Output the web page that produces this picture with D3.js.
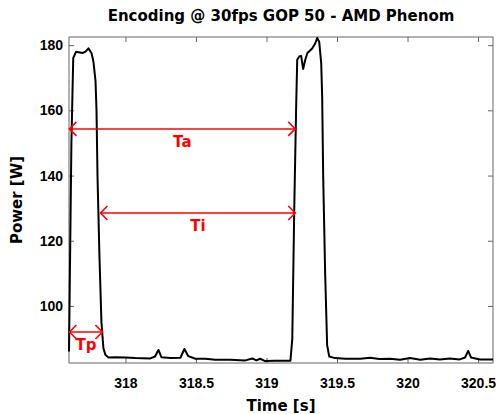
<!DOCTYPE html>
<html>
<head>
<meta charset="utf-8">
<script src="https://cdn.jsdelivr.net/npm/d3@7"></script>
<style>
  body { margin: 0; background: #fff; }
  svg { display: block; font-family: "DejaVu Sans", Arial, sans-serif; }
</style>
</head>
<body>
<svg id="chart"></svg>
<script>
// time [s] and power [W]
const times = [317.600, 317.617, 317.630, 317.650, 317.695, 317.717, 317.738, 317.760, 317.773, 317.788,
  317.795, 317.802, 317.816, 317.830, 317.844, 317.858, 317.880, 317.930, 318.000, 318.070,
  318.177, 318.210, 318.234, 318.255, 318.320, 318.390, 318.418, 318.446, 318.496, 318.567,
  318.637, 318.744, 318.850, 318.900, 318.928, 318.956, 318.990, 319.060, 319.170, 319.183,
  319.197, 319.210, 319.218, 319.232, 319.246, 319.260, 319.275, 319.290, 319.324, 319.345,
  319.360, 319.374, 319.388, 319.395, 319.402, 319.416, 319.430, 319.445, 319.487, 319.558,
  319.664, 319.735, 319.800, 319.876, 319.947, 320.018, 320.090, 320.160, 320.230, 320.300,
  320.370, 320.408, 320.430, 320.450, 320.514, 320.606]
const power = [86.0, 150.0, 176.0, 178.0, 177.6, 178.0, 179.0, 177.5, 175.0, 169.0,
  160.0, 140.0, 115.0, 95.0, 87.0, 85.0, 84.2, 84.3, 84.2, 84.0,
  83.9, 84.5, 86.5, 84.3, 84.0, 84.1, 86.8, 84.6, 83.8, 83.8,
  83.5, 83.5, 83.3, 83.9, 83.3, 83.8, 83.1, 83.2, 83.2, 90.0,
  130.0, 160.0, 175.5, 176.5, 176.7, 172.7, 175.5, 177.6, 179.0, 180.5,
  182.2, 181.0, 174.5, 164.0, 140.0, 110.0, 88.0, 84.5, 84.0, 83.8,
  83.8, 84.1, 83.7, 83.8, 83.5, 84.0, 83.5, 83.9, 83.6, 83.9,
  83.6, 84.2, 86.2, 84.2, 83.6, 83.6]

const xTicks = [318, 318.5, 319, 319.5, 320, 320.5]
const yTicks = [100, 120, 140, 160, 180]

// annotation arrows: label, start time, end time, level
const arrowNames = ["Ta", "Ti", "Tp"]
const arrowStart = [317.603, 317.823, 317.603]
const arrowEnd = [319.204, 319.204, 317.837]
const arrowLevel = [154.3, 128.5, 92.0]

const W = 501, H = 414
const m = {left: 69, right: 8, top: 37, bottom: 51}

const svg = d3.select('#chart').attr('width', W).attr('height', H)

const x = d3.scaleLinear().domain([317.6, 320.606]).range([m.left, W - m.right])
const y = d3.scaleLinear().domain([82.5, 182.5]).range([H - m.bottom, m.top])

const axisColor = '#666'

// box
svg.append('rect')
  .attr('x', m.left).attr('y', m.top)
  .attr('width', W - m.right - m.left).attr('height', H - m.bottom - m.top)
  .attr('fill', 'none').attr('stroke', axisColor).attr('stroke-width', 1)

// inward ticks on all four sides
const tl = 5
const xb = d3.axisBottom(x).tickValues(xTicks).tickSize(-tl).tickFormat(d3.format('~g'))
const xt = d3.axisTop(x).tickValues(xTicks).tickSize(-tl).tickFormat('')
const yl = d3.axisLeft(y).tickValues(yTicks).tickSize(-tl)
const yr = d3.axisRight(y).tickValues(yTicks).tickSize(-tl).tickFormat('')

function styleAxis(g) {
  g.select('.domain').remove()
  g.selectAll('.tick line').attr('stroke', axisColor)
  g.selectAll('.tick text').attr('fill', '#000').style('font-size', '14px').style('font-weight', 'bold')
}

svg.append('g').attr('transform', `translate(0,${H - m.bottom})`).call(xb).call(styleAxis)
  .selectAll('.tick text').attr('y', 15)
svg.append('g').attr('transform', `translate(0,${m.top})`).call(xt).call(styleAxis)
svg.append('g').attr('transform', `translate(${m.left},0)`).call(yl).call(styleAxis)
  .selectAll('.tick text').attr('x', -6)
svg.append('g').attr('transform', `translate(${W - m.right},0)`).call(yr).call(styleAxis)

// power trace
const line = d3.line().x((d, i) => x(times[i])).y(d => y(d))
svg.append('path')
  .datum(power)
  .attr('d', line)
  .attr('fill', 'none')
  .attr('stroke', '#000')
  .attr('stroke-width', 2)
  .attr('stroke-linejoin', 'round')

// red double arrows
const red = '#ff0000'
const ah = 7
arrowNames.forEach((name, i) => {
  const x0 = x(arrowStart[i]), x1 = x(arrowEnd[i]), yy = y(arrowLevel[i])
  const g = svg.append('g').attr('stroke', red).attr('stroke-width', 1.6).attr('fill', 'none')
  g.append('line').attr('x1', x0).attr('x2', x1).attr('y1', yy).attr('y2', yy)
  g.append('path').attr('d', `M${x0 + ah},${yy - ah}L${x0},${yy}L${x0 + ah},${yy + ah}`)
  g.append('path').attr('d', `M${x1 - ah},${yy - ah}L${x1},${yy}L${x1 - ah},${yy + ah}`)
  svg.append('text')
    .attr('x', (x0 + x1) / 2).attr('y', yy + 18)
    .attr('text-anchor', 'middle')
    .attr('fill', red)
    .style('font-size', '15px').style('font-weight', 'bold')
    .text(name)
})

// titles
svg.append('text')
  .attr('x', (m.left + W - m.right) / 2).attr('y', 21)
  .attr('text-anchor', 'middle')
  .style('font-size', '15px').style('font-weight', 'bold')
  .text('Encoding @ 30fps GOP 50 - AMD Phenom')

svg.append('text')
  .attr('x', (m.left + W - m.right) / 2).attr('y', 411)
  .attr('text-anchor', 'middle')
  .style('font-size', '15px').style('font-weight', 'bold')
  .text('Time [s]')

svg.append('text')
  .attr('transform', `translate(22,${(m.top + H - m.bottom) / 2}) rotate(-90)`)
  .attr('text-anchor', 'middle')
  .style('font-size', '15px').style('font-weight', 'bold')
  .text('Power [W]')
</script>
</body>
</html>
